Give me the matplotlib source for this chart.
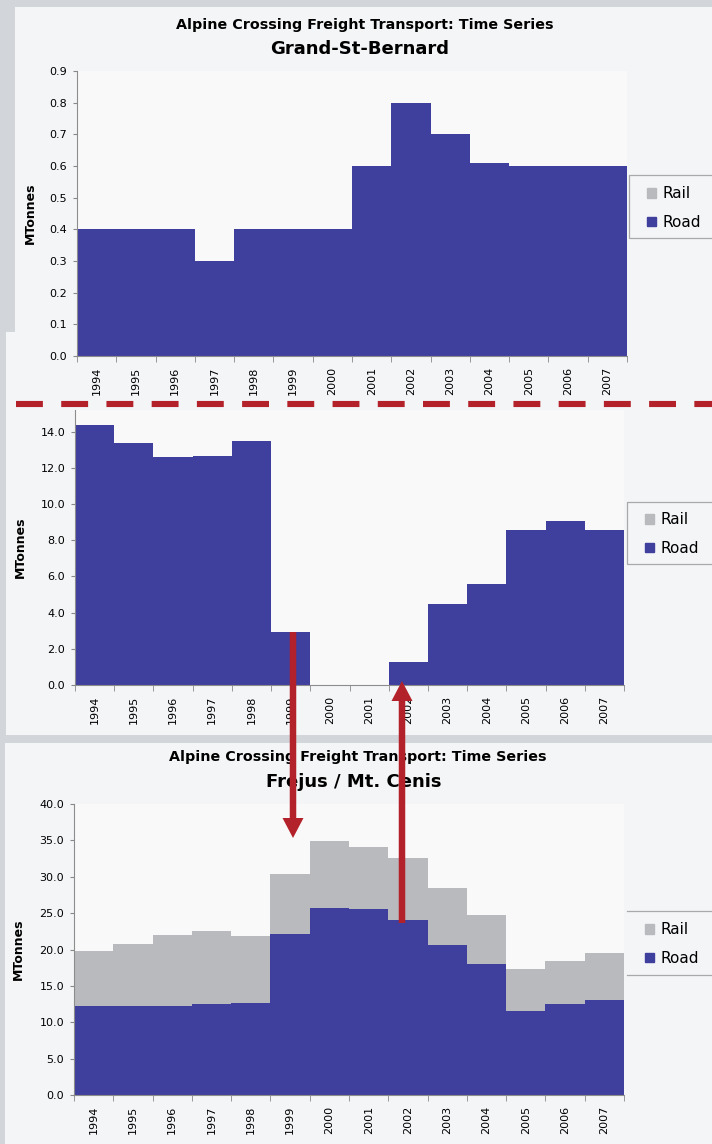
import matplotlib
matplotlib.use('Agg')
import matplotlib.pyplot as plt
from matplotlib.patches import Rectangle, FancyArrow, Patch
from matplotlib.ticker import FormatStrFormatter

plt.rcParams['font.family'] = ['DejaVu Sans']

W, H = 712, 1144

years = ['1994', '1995', '1996', '1997', '1998', '1999', '2000',
         '2001', '2002', '2003', '2004', '2005', '2006', '2007']

# Grand-St-Bernard (MTonnes)
gsb_road = [0.4, 0.4, 0.4, 0.3, 0.4, 0.4, 0.4, 0.6, 0.8, 0.7, 0.61, 0.6, 0.6, 0.6]
gsb_rail = [0, 0, 0, 0, 0, 0, 0, 0, 0, 0, 0, 0, 0, 0]

# middle chart (title hidden)
mb_road = [14.35, 13.37, 12.58, 12.65, 13.5, 2.92, 0, 0, 1.29, 4.48, 5.57, 8.58, 9.08, 8.58]
mb_rail = [0, 0, 0, 0, 0, 0, 0, 0, 0, 0, 0, 0, 0, 0]

# Frejus / Mt. Cenis
fr_road = [12.2, 12.3, 12.3, 12.5, 12.7, 22.1, 25.7, 25.5, 24.1, 20.6, 18.0, 11.5, 12.45, 13.0]
fr_rail = [7.6, 8.5, 9.7, 10.1, 9.2, 8.3, 9.2, 8.6, 8.5, 7.8, 6.8, 5.8, 6.0, 6.5]

ROAD = '#3f3f9e'
RAIL = '#b9babd'
RED = '#b3222a'
PANEL = '#f4f5f7'
PLOT = '#f9f9fa'
EDGE = '#a9a9a9'

fig = plt.figure(figsize=(W / 100, H / 100), dpi=100)
fig.patch.set_facecolor('#d2d5da')

bg = fig.add_axes([0, 0, 1, 1], zorder=0)
bg.set_xlim(0, W)
bg.set_ylim(H, 0)
bg.axis('off')
bg.add_patch(Rectangle((15, 7), W - 15, 330, color=PANEL, lw=0))
bg.add_patch(Rectangle((6, 332), W - 6, 403, color=PANEL, lw=0))
bg.add_patch(Rectangle((5, 743), W - 5, H - 743, color=PANEL, lw=0))

# overlay in pixel units for titles, legend boxes and the red markings
ov = fig.add_axes([0, 0, 1, 1], zorder=10)
ov.set_xlim(0, W)
ov.set_ylim(H, 0)
ov.axis('off')
ov.patch.set_alpha(0)


def px_axes(x0, x1, ytop, ybot):
    return fig.add_axes([x0 / W, 1 - ybot / H, (x1 - x0) / W, (ybot - ytop) / H], zorder=2)


def draw_panel(ax, road, rail, ymax, yticks, ylab_x, leg_xy):
    x = range(len(years))
    ax.set_facecolor(PLOT)
    ax.bar(x, road, width=1.0, color=ROAD, lw=0, label='Road')
    ax.bar(x, rail, width=1.0, bottom=road, color=RAIL, lw=0, label='Rail')
    ax.set_xlim(-0.5, len(years) - 0.5)
    ax.set_ylim(0, ymax)
    ax.set_yticks(yticks)
    ax.yaxis.set_major_formatter(FormatStrFormatter('%.1f'))
    ax.set_xticks(list(x))
    ax.set_xticklabels(years, rotation=90, fontsize=8)
    ax.set_xticks([i - 0.5 for i in range(len(years) + 1)], minor=True)
    ax.tick_params(axis='x', which='major', length=0, pad=8)
    ax.tick_params(axis='x', which='minor', length=4, color='#888888')
    ax.tick_params(axis='y', length=3, color='#888888', labelsize=8, pad=4)
    for s in ['top', 'right']:
        ax.spines[s].set_visible(False)
    for s in ['left', 'bottom']:
        ax.spines[s].set_color('#8c8c8c')
        ax.spines[s].set_linewidth(0.8)
    ax.set_ylabel('MTonnes', fontsize=9, fontweight='bold')
    ax.yaxis.set_label_coords(ylab_x, 0.5)
    handles = [Patch(color=RAIL, label='Rail'), Patch(color=ROAD, label='Road')]
    ax.legend(handles=handles, loc='center left', bbox_to_anchor=leg_xy,
              bbox_transform=ov.transData, fontsize=11, frameon=False,
              handlelength=0.6, handleheight=0.6, handletextpad=0.4,
              borderpad=0, labelspacing=0.9, borderaxespad=0)


ax1 = px_axes(77, 627, 71, 356)
draw_panel(ax1, gsb_road, gsb_rail, 0.9, [i / 10 for i in range(10)], -0.073, (647, 208))

ax2 = px_axes(75, 624, 410, 685)
draw_panel(ax2, mb_road, mb_rail, 15.2, [0, 2, 4, 6, 8, 10, 12, 14], -0.087, (645, 534))

ax3 = px_axes(74, 624, 804, 1095)
draw_panel(ax3, fr_road, fr_rail, 40, [0, 5, 10, 15, 20, 25, 30, 35, 40], -0.089, (645, 944))

# legend boxes
ov.add_patch(Rectangle((629, 175), 90, 63, fill=False, ec=EDGE, lw=0.9, zorder=1))
ov.add_patch(Rectangle((627, 502), 90, 62, fill=False, ec=EDGE, lw=0.9, zorder=1))
ov.plot([627, W], [911, 911], color=EDGE, lw=0.9, zorder=1)
ov.plot([627, W], [975, 975], color=EDGE, lw=0.9, zorder=1)

title1 = 'Alpine Crossing Freight Transport: Time Series'
ov.text(365, 25, title1, ha='center', va='center', fontsize=10.3, fontweight='bold', zorder=1)
ov.text(360, 49, 'Grand-St-Bernard', ha='center', va='center', fontsize=13, fontweight='bold', zorder=1)
ov.text(358, 757, title1, ha='center', va='center', fontsize=10.3, fontweight='bold', zorder=1)
ov.text(354, 782, 'Frejus / Mt. Cenis', ha='center', va='center', fontsize=13, fontweight='bold', zorder=1)

ov.plot([16, W], [404, 404], color=RED, lw=4.4, dashes=(4.4, 3.0),
        dash_capstyle='butt', zorder=5)

ov.add_patch(FancyArrow(293, 632, 0, 838 - 632, width=6.5, head_width=21, head_length=20,
                        length_includes_head=True, color=RED, lw=0, zorder=6))
ov.add_patch(FancyArrow(402, 923, 0, 681 - 923, width=6.5, head_width=21, head_length=20,
                        length_includes_head=True, color=RED, lw=0, zorder=6))

fig.savefig('out.png', dpi=100, facecolor=fig.get_facecolor())
